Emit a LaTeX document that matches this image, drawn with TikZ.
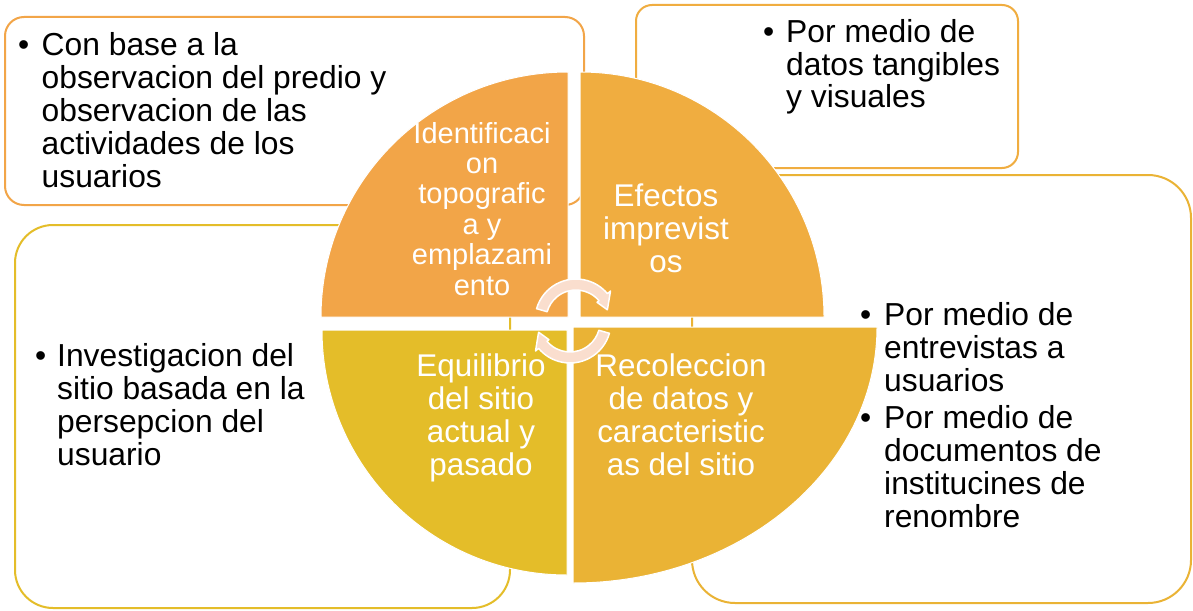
\documentclass[tikz,border=0pt]{standalone}
\usepackage{fontspec}
\setmainfont{Liberation Sans}
\usetikzlibrary{calc}
\definecolor{qone}{RGB}{242,165,72}
\definecolor{qtwo}{RGB}{240,173,64}
\definecolor{qthree}{RGB}{228,189,41}
\definecolor{qfour}{RGB}{234,179,53}
\definecolor{peach}{RGB}{250,222,206}
\newcommand\LinesL[1]{\vtop{\lineskiplimit=-\maxdimen\halign{##\hfil\cr#1\crcr}}}
\newcommand\LinesC[1]{\vtop{\lineskiplimit=-\maxdimen\halign{\hfil##\hfil\cr#1\crcr}}}
\tikzset{
  bgbox/.style={draw=#1, line width=2pt, fill=white, inner sep=0pt},
  quad/.style={fill=#1, draw=white, line width=1pt},
  boxtext/.style={anchor=base west, inner sep=0pt, text=black, font=\fontsize{31.8}{33}\selectfont},
  quadtext/.style={anchor=base, inner sep=0pt, text=white, font=\fontsize{31.4}{33}\selectfont},
  cyc/.style={fill=peach, draw=white, line width=1.5pt, line join=round},
}
\begin{document}
\begin{tikzpicture}[x=1pt,y=-1pt]
\useasboundingbox (0,0) rectangle (1193,610);
\fill[white] (0,0) rectangle (1193,610);
% background boxes
\node[bgbox=qone, minimum width=579pt, minimum height=188pt, rounded corners=19pt] (b1) at (294.5,111) {};
\node[bgbox=qtwo, minimum width=382pt, minimum height=163pt, rounded corners=16pt] (b2) at (827,86.5) {};
\node[bgbox=qthree, minimum width=495pt, minimum height=383pt, rounded corners=38pt] (b3) at (262.5,416.5) {};
\node[bgbox=qfour, minimum width=499pt, minimum height=428pt, rounded corners=43pt] (b4) at (941.5,389) {};
% quadrants
\coordinate (c1) at (568,317);
\coordinate (c2) at (580,317);
\coordinate (c3) at (567,330);
\coordinate (c4) at (573,327);
\path[quad=qone] (c1) -- ++(-247,0) arc[start angle=180,end angle=270,x radius=247,y radius=245] -- cycle;
\path[quad=qtwo] (c2) -- ++(0,-245) arc[start angle=270,end angle=360,x radius=244,y radius=245] -- cycle;
\path[quad=qthree] (c3) -- ++(0,245) arc[start angle=90,end angle=180,x radius=245,y radius=245] -- cycle;
\path[quad=qfour] (c4) -- ++(304,0) arc[start angle=0,end angle=90,x radius=304,y radius=256] -- cycle;
% cycle arrows
\coordinate (o1) at (576,320);
\coordinate (o2) at (570,322);
\path[cyc] ($(o1)+(196:41)$) arc[start angle=196,end angle=320,radius=41]
  -- ($(o1)+(320:45)$) -- ($(o1)+(342:33)$) -- ($(o1)+(320:27.5)$) -- ($(o1)+(320:30)$)
  arc[start angle=320,end angle=196,radius=30] -- cycle;
\path[cyc] ($(o2)+(16:41)$) arc[start angle=16,end angle=140,radius=41]
  -- ($(o2)+(140:45)$) -- ($(o2)+(162:33)$) -- ($(o2)+(140:27.5)$) -- ($(o2)+(140:30)$)
  arc[start angle=140,end angle=16,radius=30] -- cycle;
% quadrant texts
\node[quadtext, font=\fontsize{29}{30.4}\selectfont] (q1t) at (482,143) {\LinesC{Identificaci\cr on\cr topografic\cr a y\cr emplazami\cr ento}};
\node[quadtext] (q2t) at (666,206) {\LinesC{Efectos\cr imprevist\cr os}};
\node[quadtext] (q3t) at (481,376) {\LinesC{Equilibrio\cr del sitio\cr actual y\cr pasado}};
\node[quadtext] (q4t) at (681,376) {\LinesC{Recoleccion\cr de datos y\cr caracteristic\cr as del sitio}};
% box texts
\node[boxtext] (d1) at (18,56) {•};
\node[boxtext] (t1) at (41.5,56) {\LinesL{Con base a la\cr observacion del predio y\cr observacion de las\cr actividades de los\cr usuarios}};
\node[boxtext] (d2) at (763,42) {•};
\node[boxtext] (t2) at (786,42) {\LinesL{Por medio de\cr datos tangibles\cr y visuales}};
\node[boxtext] (d3) at (35,366) {•};
\node[boxtext] (t3) at (57,366) {\LinesL{Investigacion del\cr sitio basada en la\cr persepcion del\cr usuario}};
\node[boxtext] (d4) at (860,325) {•};
\node[boxtext] (t4) at (884,325) {\LinesL{Por medio de\cr entrevistas a\cr usuarios}};
\node[boxtext] (d5) at (860,428) {•};
\node[boxtext] (t5) at (884,428) {\LinesL{Por medio de\cr documentos de\cr institucines de\cr renombre}};
\end{tikzpicture}
\end{document}
